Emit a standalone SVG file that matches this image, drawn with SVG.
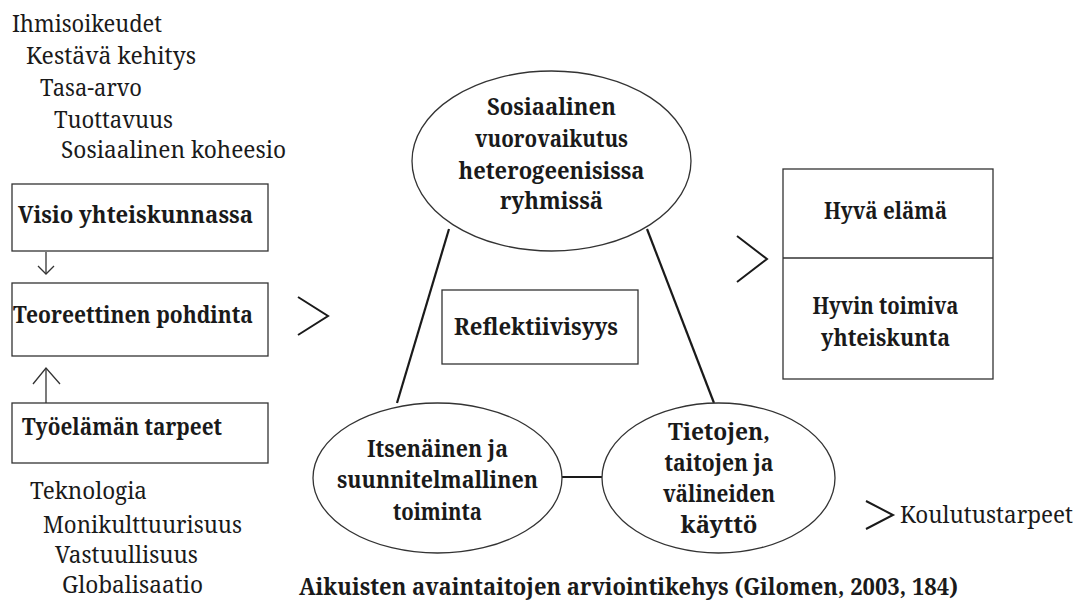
<svg xmlns="http://www.w3.org/2000/svg" width="1079" height="600" viewBox="0 0 1079 600">
<style>
  text { font-family: 'Noto Serif', 'DejaVu Serif', 'Liberation Serif', serif; fill: #1a1a1a; }
  .n { font-size: 23.5px; }
  .b { font-size: 24px; font-weight: bold; }
  .m { text-anchor: middle; }
  .box { fill: #fff; stroke: #333; stroke-width: 1.3; }
  .thin { fill: none; stroke: #333; stroke-width: 1.3; }
  .gt { fill: none; stroke: #1a1a1a; stroke-width: 2; stroke-linejoin: miter; }
  .link { fill: none; stroke: #1a1a1a; stroke-width: 2.2; }
</style>
<rect width="1079" height="600" fill="#fff"/>

<g id="values-top">
  <text class="n" x="12" y="32" textLength="150" lengthAdjust="spacingAndGlyphs">Ihmisoikeudet</text>
  <text class="n" x="26" y="64" textLength="170" lengthAdjust="spacingAndGlyphs">Kestävä kehitys</text>
  <text class="n" x="40" y="96" textLength="102" lengthAdjust="spacingAndGlyphs">Tasa-arvo</text>
  <text class="n" x="54" y="128" textLength="119" lengthAdjust="spacingAndGlyphs">Tuottavuus</text>
  <text class="n" x="61" y="158" textLength="225" lengthAdjust="spacingAndGlyphs">Sosiaalinen koheesio</text>
</g>

<g id="values-bottom">
  <text class="n" x="30" y="499" textLength="117" lengthAdjust="spacingAndGlyphs">Teknologia</text>
  <text class="n" x="43" y="533" textLength="199" lengthAdjust="spacingAndGlyphs">Monikulttuurisuus</text>
  <text class="n" x="55" y="563" textLength="143" lengthAdjust="spacingAndGlyphs">Vastuullisuus</text>
  <text class="n" x="62" y="593" textLength="141" lengthAdjust="spacingAndGlyphs">Globalisaatio</text>
</g>

<g id="connectors">
  <line class="thin" x1="46" y1="252" x2="46" y2="273"/>
  <polyline class="thin" points="38,266 46,274 54,266"/>
  <line class="thin" x1="46" y1="403" x2="46" y2="368"/>
  <polyline class="thin" points="33,384 46,368 60,384"/>
  <polyline class="gt" points="298,297 328,316 298,335"/>
  <polyline class="gt" points="737,236 767,259 737,282"/>
  <polyline class="gt" points="866,501 893,515 866,529"/>
  <line class="link" x1="449" y1="229" x2="397" y2="403"/>
  <line class="link" x1="647" y1="229" x2="714" y2="403"/>
  <line class="link" x1="562" y1="477" x2="602" y2="477" stroke-width="3"/>
</g>

<g id="node-visio">
  <rect class="box" x="12" y="184" width="256" height="67"/>
  <text class="b" x="18" y="223" textLength="235" lengthAdjust="spacingAndGlyphs">Visio yhteiskunnassa</text>
</g>

<g id="node-teoreettinen">
  <rect class="box" x="12" y="283" width="256" height="73"/>
  <text class="b" x="13" y="323" textLength="240" lengthAdjust="spacingAndGlyphs">Teoreettinen pohdinta</text>
</g>

<g id="node-tyoelama">
  <rect class="box" x="12" y="403" width="256" height="60"/>
  <text class="b" x="22" y="435" textLength="200" lengthAdjust="spacingAndGlyphs">Työelämän tarpeet</text>
</g>

<g id="node-sosiaalinen">
  <ellipse class="box" cx="551.5" cy="161" rx="139.5" ry="90"/>
  <text class="b m" x="551.5" y="115" textLength="129" lengthAdjust="spacingAndGlyphs">Sosiaalinen</text>
  <text class="b m" x="551.5" y="147" textLength="153" lengthAdjust="spacingAndGlyphs">vuorovaikutus</text>
  <text class="b m" x="551.5" y="179" textLength="186" lengthAdjust="spacingAndGlyphs">heterogeenisissa</text>
  <text class="b m" x="551.5" y="209" textLength="103" lengthAdjust="spacingAndGlyphs">ryhmissä</text>
</g>

<g id="node-reflektiivisyys">
  <rect class="box" x="442" y="290" width="196" height="74"/>
  <text class="b m" x="536" y="335" textLength="164" lengthAdjust="spacingAndGlyphs">Reflektiivisyys</text>
</g>

<g id="node-itsenainen">
  <ellipse class="box" cx="437.5" cy="478" rx="124.5" ry="75"/>
  <text class="b m" x="437.5" y="457" textLength="141" lengthAdjust="spacingAndGlyphs">Itsenäinen ja</text>
  <text class="b m" x="437.5" y="488" textLength="201" lengthAdjust="spacingAndGlyphs">suunnitelmallinen</text>
  <text class="b m" x="437.5" y="520" textLength="89" lengthAdjust="spacingAndGlyphs">toiminta</text>
</g>

<g id="node-tietojen">
  <ellipse class="box" cx="718.5" cy="478" rx="116.5" ry="75"/>
  <text class="b m" x="719" y="440" textLength="102" lengthAdjust="spacingAndGlyphs">Tietojen,</text>
  <text class="b m" x="719" y="471" textLength="109" lengthAdjust="spacingAndGlyphs">taitojen ja</text>
  <text class="b m" x="719" y="502" textLength="112" lengthAdjust="spacingAndGlyphs">välineiden</text>
  <text class="b m" x="719" y="533" textLength="77" lengthAdjust="spacingAndGlyphs">käyttö</text>
</g>

<g id="node-hyva">
  <rect class="box" x="783" y="169" width="210" height="210"/>
  <line class="thin" x1="783" y1="258" x2="993" y2="258"/>
  <text class="b m" x="885.5" y="219" textLength="123" lengthAdjust="spacingAndGlyphs">Hyvä elämä</text>
  <text class="b m" x="885.5" y="314" textLength="146" lengthAdjust="spacingAndGlyphs">Hyvin toimiva</text>
  <text class="b m" x="885.5" y="346" textLength="129" lengthAdjust="spacingAndGlyphs">yhteiskunta</text>
</g>

<g id="label-koulutustarpeet">
  <text class="n" x="900" y="523" textLength="173" lengthAdjust="spacingAndGlyphs">Koulutustarpeet</text>
</g>

<g id="title">
  <text class="b" x="299" y="595" textLength="659" lengthAdjust="spacingAndGlyphs">Aikuisten avaintaitojen arviointikehys (Gilomen, 2003, 184)</text>
</g>
</svg>
